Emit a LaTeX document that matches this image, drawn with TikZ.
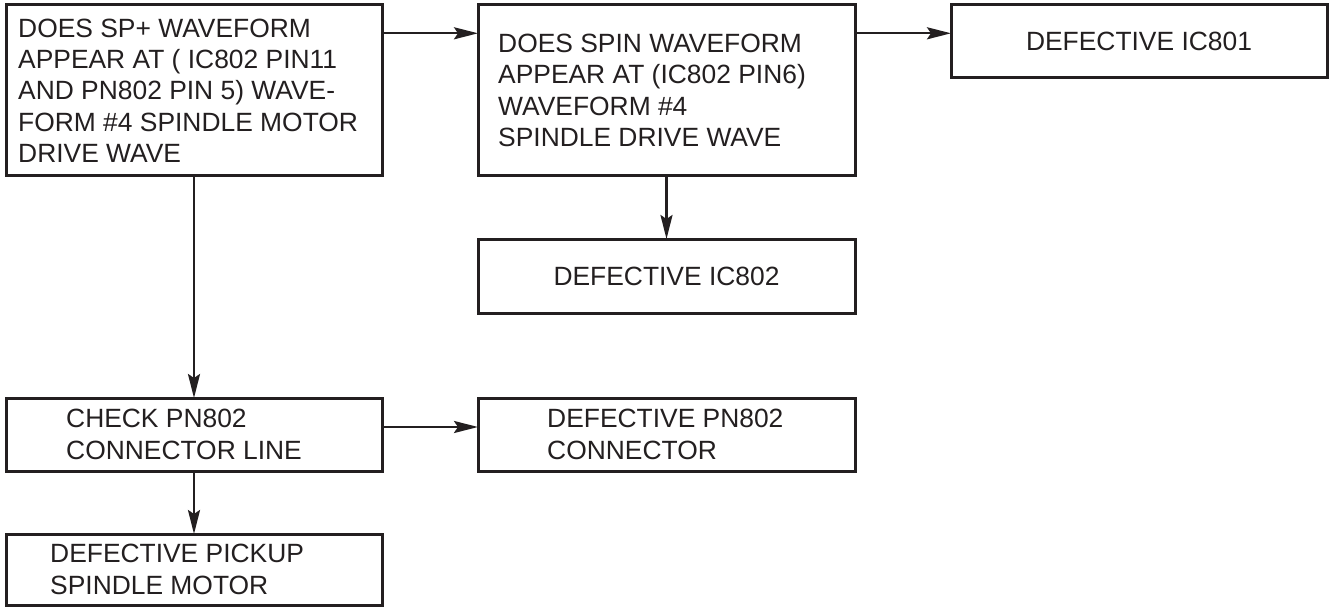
\documentclass[tikz,border=0pt]{standalone}
\usepackage{fontspec}
\setmainfont{Liberation Sans}
\usetikzlibrary{arrows.meta}
\definecolor{ink}{HTML}{231F20}
\begin{document}
\begin{tikzpicture}[x=1pt,y=-1pt,
  box/.style={draw=ink, line width=3pt, inner sep=0pt, outer sep=0pt, anchor=north west},
  txt/.style={text=ink, font=\fontsize{26.4}{31.3}\selectfont, align=left, inner sep=0pt, anchor=west},
  arr/.style={draw=ink, line width=2.4pt, -{Stealth[length=24pt,width=12pt,inset=4pt]}}]
\useasboundingbox[fill=white] (0,0) rectangle (1331,607);
\node[box, minimum width=376pt, minimum height=171pt] (A) at (6,5) {};
\node[box, minimum width=377pt, minimum height=171pt] (B) at (478,5) {};
\node[box, minimum width=376pt, minimum height=73pt] (C) at (951,5) {};
\node[box, minimum width=377pt, minimum height=74pt] (D) at (478,239) {};
\node[box, minimum width=376pt, minimum height=73pt] (E) at (6,398) {};
\node[box, minimum width=377pt, minimum height=73pt] (F) at (478,398) {};
\node[box, minimum width=376pt, minimum height=71pt] (G) at (6,534) {};
\node[txt] (At) at ([xshift=12pt]A.west) {DOES SP+ WAVEFORM\\APPEAR AT ( IC802 PIN11\\AND PN802 PIN 5) WAVE-\\FORM \#4 SPINDLE MOTOR\\DRIVE WAVE};
\node[txt] (Bt) at ([xshift=20pt]B.west) {DOES SPIN WAVEFORM\\APPEAR AT (IC802 PIN6)\\WAVEFORM \#4\\SPINDLE DRIVE WAVE};
\node[txt, anchor=center, align=center] (Ct) at (C.center) {DEFECTIVE IC801};
\node[txt, anchor=center, align=center] (Dt) at (D.center) {DEFECTIVE IC802};
\node[txt] (Et) at ([xshift=60pt]E.west) {CHECK PN802\\CONNECTOR LINE};
\node[txt] (Ft) at ([xshift=69pt]F.west) {DEFECTIVE PN802\\CONNECTOR};
\node[txt] (Gt) at ([xshift=44pt]G.west) {DEFECTIVE PICKUP\\SPINDLE MOTOR};
\draw[arr] ([yshift=-28.3pt]A.north east) -- ([yshift=-28.3pt]B.north west);
\draw[arr] ([yshift=-28.3pt]B.north east) -- ([yshift=-28.3pt]C.north west);
\draw[arr] (B.south) -- (D.north);
\draw[arr] (A.south) -- (E.north);
\draw[arr] ([yshift=-29pt]E.north east) -- ([yshift=-29pt]F.north west);
\draw[arr] (E.south) -- (G.north);
\end{tikzpicture}
\end{document}
